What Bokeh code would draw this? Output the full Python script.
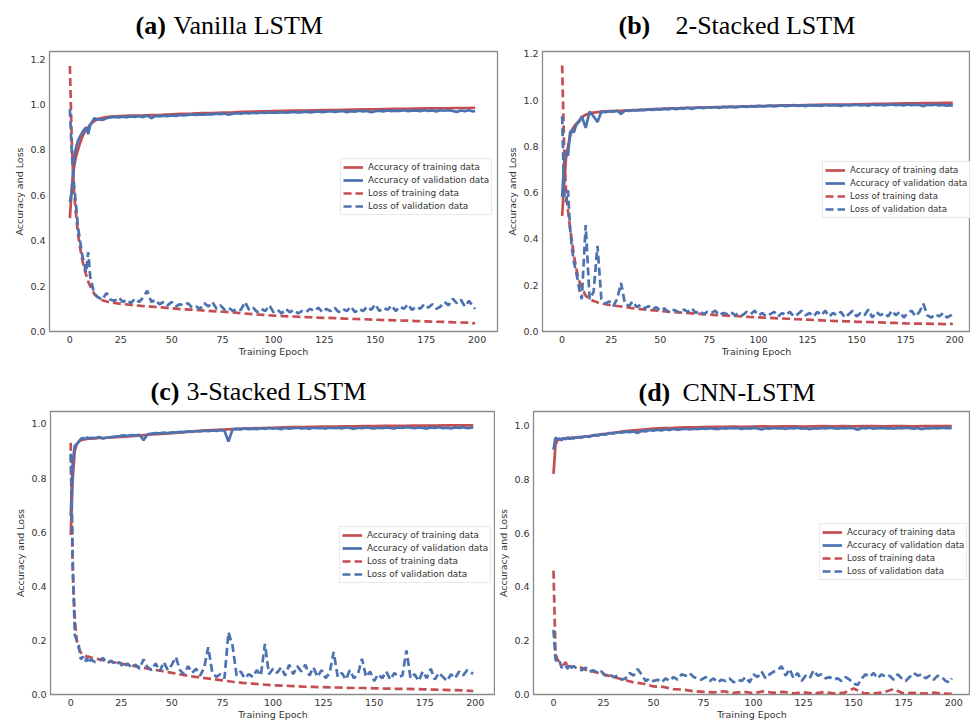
from bokeh.plotting import figure
from bokeh.models import Legend, LegendItem, FixedTicker, PrintfTickFormatter, Range1d, ColumnDataSource
from bokeh.layouts import column, row
from bokeh.core.properties import value
from bokeh.embed import file_html
from bokeh.resources import INLINE

RED = "#c44e52"
BLUE = "#4c72b0"

SERIES_NAMES = ["Accuracy of training data", "Accuracy of validation data",
                "Loss of training data", "Loss of validation data"]
X_TICKS = [0, 25, 50, 75, 100, 125, 150, 175, 200]

# epochs at which the training curves (smooth) are read
EPOCHS_T = [
    0, 1, 2, 3, 4, 5, 6, 7, 8, 9,
    10, 12, 14, 16, 18, 20, 25, 30, 35, 40,
    45, 50, 55, 60, 65, 70, 75, 80, 85, 90,
    95, 100, 105, 110, 115, 120, 125, 130, 135, 140,
    145, 150, 155, 160, 165, 170, 175, 180, 185, 190,
    195, 199]

# epochs at which the validation curves (noisy) are read
EPOCHS_V = [
    0, 1, 2, 3, 4, 5, 6, 7, 8, 9,
    10, 12, 14, 16, 18, 20, 22, 24, 26, 28,
    30, 32, 34, 36, 38, 40, 42, 44, 46, 48,
    50, 52, 54, 56, 58, 60, 62, 64, 66, 68,
    70, 72, 74, 76, 78, 80, 82, 84, 86, 88,
    90, 92, 94, 96, 98, 100, 102, 104, 106, 108,
    110, 112, 114, 116, 118, 120, 122, 124, 126, 128,
    130, 132, 134, 136, 138, 140, 142, 144, 146, 148,
    150, 152, 154, 156, 158, 160, 162, 164, 166, 168,
    170, 172, 174, 176, 178, 180, 182, 184, 186, 188,
    190, 192, 194, 196, 198, 199]

# ---------------- (a) Vanilla LSTM ----------------
A_TRAIN_ACC = [
    0.50, 0.64, 0.72, 0.77, 0.80, 0.83, 0.855, 0.875, 0.89, 0.90,
    0.912, 0.928, 0.937, 0.942, 0.945, 0.947, 0.949, 0.951, 0.952, 0.954,
    0.955, 0.957, 0.959, 0.960, 0.962, 0.963, 0.965, 0.966, 0.968, 0.969,
    0.970, 0.971, 0.972, 0.973, 0.974, 0.975, 0.976, 0.976, 0.977, 0.978,
    0.979, 0.979, 0.980, 0.981, 0.981, 0.982, 0.983, 0.983, 0.984, 0.985,
    0.985, 0.986]
A_VAL_ACC = [
    0.57, 0.62, 0.76, 0.81, 0.84, 0.86, 0.875, 0.89, 0.90, 0.87,
    0.91, 0.94, 0.935, 0.932, 0.94, 0.944, 0.946, 0.943, 0.947, 0.944,
    0.948, 0.946, 0.949, 0.945, 0.951, 0.940, 0.950, 0.948, 0.951, 0.949,
    0.952, 0.950, 0.954, 0.952, 0.955, 0.957, 0.954, 0.957, 0.956, 0.958,
    0.957, 0.960, 0.958, 0.961, 0.955, 0.960, 0.962, 0.960, 0.963, 0.961,
    0.964, 0.962, 0.965, 0.963, 0.966, 0.964, 0.965, 0.967, 0.964, 0.966,
    0.968, 0.965, 0.967, 0.969, 0.966, 0.968, 0.970, 0.967, 0.969, 0.971,
    0.968, 0.970, 0.972, 0.967, 0.971, 0.969, 0.973, 0.970, 0.972, 0.966,
    0.971, 0.973, 0.970, 0.974, 0.971, 0.973, 0.972, 0.975, 0.971, 0.973,
    0.974, 0.971, 0.975, 0.972, 0.974, 0.970, 0.975, 0.973, 0.975, 0.972,
    0.968, 0.974, 0.971, 0.975, 0.970, 0.972]
A_TRAIN_LOSS = [
    1.17, 0.82, 0.62, 0.52, 0.43, 0.37, 0.32, 0.28, 0.25, 0.22,
    0.20, 0.165, 0.148, 0.138, 0.132, 0.128, 0.122, 0.117, 0.113, 0.110,
    0.106, 0.102, 0.098, 0.096, 0.093, 0.090, 0.087, 0.084, 0.080, 0.076,
    0.073, 0.070, 0.068, 0.066, 0.064, 0.062, 0.060, 0.059, 0.057, 0.055,
    0.054, 0.052, 0.050, 0.049, 0.048, 0.046, 0.045, 0.043, 0.042, 0.040,
    0.039, 0.036]
A_VAL_LOSS = [
    0.98, 0.78, 0.65, 0.56, 0.46, 0.40, 0.34, 0.30, 0.26, 0.35,
    0.24, 0.165, 0.15, 0.14, 0.17, 0.14, 0.135, 0.15, 0.13, 0.14,
    0.125, 0.145, 0.13, 0.15, 0.18, 0.13, 0.14, 0.12, 0.13, 0.115,
    0.13, 0.11, 0.12, 0.115, 0.125, 0.105, 0.11, 0.10, 0.125, 0.11,
    0.13, 0.10, 0.115, 0.095, 0.105, 0.09, 0.10, 0.095, 0.13, 0.095,
    0.105, 0.085, 0.10, 0.09, 0.115, 0.085, 0.095, 0.08, 0.10, 0.085,
    0.095, 0.08, 0.09, 0.085, 0.10, 0.09, 0.105, 0.085, 0.10, 0.09,
    0.105, 0.085, 0.10, 0.09, 0.11, 0.085, 0.10, 0.09, 0.11, 0.095,
    0.12, 0.09, 0.105, 0.095, 0.115, 0.09, 0.11, 0.10, 0.12, 0.095,
    0.11, 0.10, 0.12, 0.105, 0.12, 0.10, 0.11, 0.13, 0.115, 0.145,
    0.125, 0.14, 0.11, 0.135, 0.11, 0.10]

# ---------------- (b) 2-Stacked LSTM ----------------
B_TRAIN_ACC = [
    0.50, 0.63, 0.75, 0.80, 0.84, 0.87, 0.885, 0.895, 0.905, 0.915,
    0.925, 0.937, 0.943, 0.946, 0.948, 0.950, 0.952, 0.954, 0.956, 0.958,
    0.960, 0.962, 0.964, 0.965, 0.967, 0.968, 0.969, 0.970, 0.971, 0.972,
    0.973, 0.974, 0.975, 0.976, 0.977, 0.977, 0.978, 0.979, 0.980, 0.980,
    0.981, 0.982, 0.983, 0.984, 0.984, 0.985, 0.986, 0.986, 0.987, 0.987,
    0.988, 0.988]
B_VAL_ACC = [
    0.58, 0.73, 0.78, 0.76, 0.86, 0.87, 0.86, 0.89, 0.90, 0.91,
    0.93, 0.88, 0.95, 0.93, 0.905, 0.95, 0.948, 0.952, 0.950, 0.954,
    0.940, 0.955, 0.953, 0.957, 0.955, 0.958, 0.956, 0.960, 0.958, 0.961,
    0.959, 0.962, 0.960, 0.964, 0.961, 0.965, 0.963, 0.967, 0.962, 0.966,
    0.968, 0.965, 0.969, 0.967, 0.970, 0.966, 0.971, 0.969, 0.972, 0.968,
    0.971, 0.973, 0.970, 0.974, 0.972, 0.975, 0.973, 0.974, 0.976, 0.973,
    0.975, 0.977, 0.974, 0.976, 0.978, 0.975, 0.977, 0.974, 0.978, 0.976,
    0.977, 0.975, 0.979, 0.976, 0.978, 0.977, 0.975, 0.979, 0.977, 0.978,
    0.980, 0.977, 0.979, 0.976, 0.981, 0.978, 0.980, 0.977, 0.979, 0.981,
    0.978, 0.980, 0.977, 0.981, 0.978, 0.980, 0.979, 0.974, 0.980, 0.978,
    0.981, 0.977, 0.979, 0.976, 0.978, 0.975]
B_TRAIN_LOSS = [
    1.15, 0.80, 0.60, 0.52, 0.45, 0.39, 0.33, 0.28, 0.24, 0.21,
    0.19, 0.155, 0.14, 0.132, 0.126, 0.121, 0.113, 0.108, 0.102, 0.097,
    0.092, 0.089, 0.085, 0.082, 0.079, 0.076, 0.073, 0.070, 0.068, 0.066,
    0.063, 0.061, 0.059, 0.057, 0.055, 0.053, 0.051, 0.049, 0.047, 0.045,
    0.044, 0.042, 0.041, 0.040, 0.038, 0.037, 0.035, 0.034, 0.034, 0.033,
    0.032, 0.033]
B_VAL_LOSS = [
    0.93, 0.60, 0.56, 0.61, 0.45, 0.36, 0.30, 0.26, 0.22, 0.17,
    0.14, 0.46, 0.14, 0.17, 0.37, 0.14, 0.12, 0.13, 0.11, 0.14,
    0.21, 0.12, 0.11, 0.13, 0.105, 0.115, 0.10, 0.11, 0.095, 0.105,
    0.09, 0.10, 0.085, 0.095, 0.09, 0.08, 0.095, 0.085, 0.10, 0.08,
    0.09, 0.075, 0.085, 0.08, 0.09, 0.07, 0.08, 0.075, 0.085, 0.07,
    0.08, 0.07, 0.085, 0.075, 0.09, 0.07, 0.08, 0.065, 0.075, 0.085,
    0.065, 0.08, 0.07, 0.085, 0.065, 0.075, 0.09, 0.07, 0.08, 0.065,
    0.085, 0.07, 0.09, 0.065, 0.08, 0.07, 0.085, 0.06, 0.075, 0.09,
    0.065, 0.08, 0.07, 0.095, 0.06, 0.085, 0.07, 0.08, 0.065, 0.09,
    0.07, 0.085, 0.06, 0.08, 0.09, 0.065, 0.085, 0.12, 0.07, 0.06,
    0.075, 0.065, 0.08, 0.06, 0.07, 0.085]

# ---------------- (c) 3-Stacked LSTM ----------------
C_TRAIN_ACC = [
    0.59, 0.80, 0.90, 0.925, 0.935, 0.940, 0.942, 0.944, 0.945, 0.946,
    0.946, 0.947, 0.948, 0.948, 0.949, 0.950, 0.952, 0.955, 0.958, 0.961,
    0.963, 0.966, 0.969, 0.972, 0.975, 0.977, 0.979, 0.981, 0.983, 0.984,
    0.985, 0.986, 0.987, 0.988, 0.988, 0.989, 0.990, 0.990, 0.991, 0.991,
    0.992, 0.992, 0.993, 0.993, 0.993, 0.994, 0.994, 0.994, 0.995, 0.995,
    0.995, 0.995]
C_VAL_ACC = [
    0.66, 0.86, 0.92, 0.925, 0.935, 0.945, 0.948, 0.944, 0.950, 0.947,
    0.949, 0.948, 0.952, 0.946, 0.950, 0.951, 0.953, 0.955, 0.958, 0.956,
    0.959, 0.958, 0.960, 0.940, 0.962, 0.964, 0.966, 0.965, 0.968, 0.966,
    0.969, 0.968, 0.971, 0.970, 0.973, 0.971, 0.974, 0.972, 0.975, 0.973,
    0.976, 0.974, 0.977, 0.975, 0.935, 0.980, 0.982, 0.980, 0.983, 0.981,
    0.983, 0.981, 0.984, 0.982, 0.985, 0.983, 0.984, 0.981, 0.985, 0.983,
    0.984, 0.986, 0.983, 0.985, 0.982, 0.986, 0.984, 0.985, 0.983, 0.986,
    0.984, 0.986, 0.983, 0.987, 0.985, 0.982, 0.986, 0.984, 0.987, 0.985,
    0.983, 0.986, 0.984, 0.987, 0.985, 0.983, 0.987, 0.985, 0.988, 0.986,
    0.984, 0.987, 0.985, 0.983, 0.987, 0.985, 0.988, 0.984, 0.986, 0.983,
    0.987, 0.985, 0.988, 0.984, 0.986, 0.987]
C_TRAIN_LOSS = [
    0.93, 0.45, 0.28, 0.20, 0.17, 0.155, 0.148, 0.144, 0.141, 0.139,
    0.137, 0.133, 0.130, 0.127, 0.124, 0.121, 0.114, 0.107, 0.100, 0.093,
    0.087, 0.080, 0.073, 0.067, 0.062, 0.057, 0.052, 0.047, 0.043, 0.040,
    0.037, 0.034, 0.033, 0.031, 0.029, 0.028, 0.027, 0.026, 0.025, 0.024,
    0.024, 0.023, 0.022, 0.021, 0.021, 0.020, 0.019, 0.018, 0.017, 0.016,
    0.015, 0.013]
C_VAL_LOSS = [
    0.89, 0.50, 0.22, 0.20, 0.18, 0.13, 0.14, 0.12, 0.135, 0.115,
    0.13, 0.12, 0.125, 0.135, 0.115, 0.125, 0.11, 0.12, 0.10, 0.115,
    0.10, 0.11, 0.095, 0.13, 0.10, 0.09, 0.115, 0.085, 0.12, 0.09,
    0.11, 0.138, 0.09, 0.075, 0.105, 0.08, 0.095, 0.07, 0.10, 0.175,
    0.08, 0.065, 0.075, 0.06, 0.23, 0.18, 0.07, 0.085, 0.06, 0.075,
    0.065, 0.09, 0.07, 0.187, 0.075, 0.095, 0.08, 0.10, 0.07, 0.11,
    0.075, 0.105, 0.085, 0.11, 0.07, 0.10, 0.065, 0.09, 0.06, 0.08,
    0.157, 0.065, 0.08, 0.055, 0.09, 0.06, 0.075, 0.132, 0.065, 0.085,
    0.05, 0.075, 0.06, 0.085, 0.055, 0.08, 0.065, 0.07, 0.163, 0.06,
    0.075, 0.05, 0.085, 0.06, 0.095, 0.055, 0.08, 0.065, 0.05, 0.075,
    0.06, 0.085, 0.07, 0.09, 0.08, 0.078]

# ---------------- (d) CNN-LSTM ----------------
D_TRAIN_ACC = [
    0.82, 0.93, 0.945, 0.948, 0.950, 0.952, 0.951, 0.953, 0.954, 0.953,
    0.955, 0.956, 0.958, 0.959, 0.961, 0.963, 0.968, 0.973, 0.978, 0.982,
    0.985, 0.988, 0.990, 0.991, 0.993, 0.993, 0.994, 0.995, 0.995, 0.996,
    0.995, 0.996, 0.997, 0.996, 0.997, 0.997, 0.996, 0.997, 0.998, 0.997,
    0.998, 0.997, 0.998, 0.998, 0.997, 0.998, 0.998, 0.997, 0.998, 0.998,
    0.998, 0.998]
D_VAL_ACC = [
    0.91, 0.955, 0.948, 0.952, 0.945, 0.953, 0.949, 0.955, 0.950, 0.954,
    0.952, 0.957, 0.955, 0.960, 0.958, 0.964, 0.962, 0.968, 0.966, 0.972,
    0.970, 0.975, 0.973, 0.977, 0.975, 0.978, 0.972, 0.980, 0.978, 0.983,
    0.981, 0.984, 0.982, 0.986, 0.983, 0.987, 0.984, 0.986, 0.988, 0.985,
    0.988, 0.986, 0.989, 0.987, 0.990, 0.988, 0.986, 0.990, 0.988, 0.991,
    0.989, 0.991, 0.987, 0.990, 0.988, 0.991, 0.989, 0.985, 0.990, 0.988,
    0.991, 0.989, 0.990, 0.987, 0.991, 0.989, 0.992, 0.988, 0.990, 0.986,
    0.990, 0.988, 0.991, 0.989, 0.992, 0.990, 0.988, 0.991, 0.989, 0.991,
    0.990, 0.984, 0.991, 0.989, 0.992, 0.988, 0.990, 0.991, 0.989, 0.990,
    0.988, 0.991, 0.989, 0.992, 0.990, 0.988, 0.991, 0.986, 0.990, 0.989,
    0.991, 0.989, 0.992, 0.990, 0.991, 0.990]
D_TRAIN_LOSS = [
    0.46, 0.15, 0.13, 0.12, 0.115, 0.11, 0.12, 0.105, 0.11, 0.10,
    0.105, 0.098, 0.10, 0.092, 0.088, 0.085, 0.075, 0.065, 0.055, 0.045,
    0.040, 0.030, 0.028, 0.020, 0.018, 0.012, 0.010, 0.008, 0.012, 0.006,
    0.010, 0.005, 0.012, 0.006, 0.010, 0.004, 0.008, 0.003, 0.009, 0.004,
    0.006, 0.022, 0.005, 0.004, 0.008, 0.020, 0.004, 0.006, 0.003, 0.007,
    0.003, 0.002]
D_VAL_LOSS = [
    0.24, 0.13, 0.12, 0.125, 0.10, 0.105, 0.11, 0.095, 0.115, 0.10,
    0.105, 0.095, 0.09, 0.10, 0.085, 0.09, 0.08, 0.085, 0.07, 0.075,
    0.065, 0.07, 0.055, 0.06, 0.08, 0.07, 0.095, 0.075, 0.05, 0.06,
    0.05, 0.055, 0.045, 0.06, 0.05, 0.065, 0.055, 0.075, 0.07, 0.08,
    0.065, 0.06, 0.055, 0.065, 0.05, 0.06, 0.045, 0.055, 0.05, 0.06,
    0.045, 0.055, 0.05, 0.065, 0.045, 0.075, 0.065, 0.085, 0.06, 0.075,
    0.085, 0.09, 0.105, 0.07, 0.095, 0.06, 0.08, 0.05, 0.07, 0.06,
    0.09, 0.07, 0.075, 0.06, 0.065, 0.055, 0.06, 0.05, 0.065, 0.055,
    0.04, 0.035, 0.06, 0.075, 0.065, 0.08, 0.06, 0.075, 0.065, 0.07,
    0.055, 0.075, 0.06, 0.05, 0.065, 0.08, 0.07, 0.075, 0.06, 0.07,
    0.055, 0.07, 0.065, 0.05, 0.045, 0.06]

LETTERS = ["(a)", "(b)", "(c)", "(d)"]
NAMES = ["Vanilla LSTM", "2-Stacked LSTM", "3-Stacked LSTM", "CNN-LSTM"]

PANELS = [
    dict(series=(A_TRAIN_ACC, A_VAL_ACC, A_TRAIN_LOSS, A_VAL_LOSS),
         width=500, height=327, borders=(49, 3, 7, 30),
         x_end=210, y_end=1.234, y_ticks=[0, 0.2, 0.4, 0.6, 0.8, 1.0, 1.2],
         legend_loc=(291, 116), legend_font="8.9px"),
    dict(series=(B_TRAIN_ACC, B_VAL_ACC, B_TRAIN_LOSS, B_VAL_LOSS),
         width=470, height=327, borders=(42, 0, 11, 36),
         x_end=208, y_end=1.21, y_ticks=[0, 0.2, 0.4, 0.6, 0.8, 1.0, 1.2],
         legend_loc=(280, 113), legend_font="8.6px"),
    dict(series=(C_TRAIN_ACC, C_VAL_ACC, C_TRAIN_LOSS, C_VAL_LOSS),
         width=495, height=316, borders=(50, 0, 3, 30),
         x_end=210, y_end=1.046, y_ticks=[0, 0.2, 0.4, 0.6, 0.8, 1.0],
         legend_loc=(289, 111), legend_font="8.9px"),
    dict(series=(D_TRAIN_ACC, D_VAL_ACC, D_TRAIN_LOSS, D_VAL_LOSS),
         width=475, height=316, borders=(36, 0, 2, 30),
         x_end=208.4, y_end=1.052, y_ticks=[0, 0.2, 0.4, 0.6, 0.8, 1.0],
         legend_loc=(286, 114), legend_font="8.6px"),
]

TEXT_COLOR = "#333333"
PAGE_W = 970
LINE_W = 2.7


def make_panel(cfg):
    bl, br, bt, bb = cfg["borders"]
    p = figure(width=cfg["width"], height=cfg["height"], title=None,
               x_range=Range1d(-10, cfg["x_end"]), y_range=Range1d(0, cfg["y_end"]),
               toolbar_location=None, output_backend="svg",
               min_border_left=bl, min_border_right=br,
               min_border_top=bt, min_border_bottom=bb)
    p.background_fill_color = "white"
    p.border_fill_color = "white"
    p.outline_line_color = "#8a8a8a"
    p.outline_line_width = 1.3
    p.xgrid.visible = False
    p.ygrid.visible = False

    for ax in (p.xaxis[0], p.yaxis[0]):
        ax.axis_line_color = None
        ax.major_tick_line_color = None
        ax.minor_tick_line_color = None
        ax.major_tick_out = 0
        ax.major_tick_in = 0
        ax.minor_tick_out = 0
        ax.major_label_text_font = "DejaVu Sans"
        ax.major_label_text_font_size = "9.5px"
        ax.major_label_text_color = TEXT_COLOR
        ax.major_label_text_line_height = 1.0
        ax.axis_label_text_font = "DejaVu Sans"
        ax.axis_label_text_font_size = "9.5px"
        ax.axis_label_text_font_style = "normal"
        ax.axis_label_text_color = TEXT_COLOR
        ax.axis_label_text_line_height = 1.0
    p.xaxis.major_label_standoff = 4
    p.xaxis.axis_label_standoff = 0
    p.yaxis.major_label_standoff = 4
    p.yaxis.axis_label_standoff = 2
    p.xaxis.ticker = FixedTicker(ticks=X_TICKS)
    p.yaxis.ticker = FixedTicker(ticks=cfg["y_ticks"])
    p.yaxis.formatter = PrintfTickFormatter(format="%.1f")
    p.xaxis.axis_label = "Training Epoch"
    p.yaxis.axis_label = "Accuracy and Loss"

    tr_acc, va_acc, tr_loss, va_loss = cfg["series"]
    r1 = p.line(EPOCHS_T, tr_acc, line_color=RED, line_width=LINE_W)
    r2 = p.line(EPOCHS_V, va_acc, line_color=BLUE, line_width=LINE_W)
    r3 = p.line(EPOCHS_T, tr_loss, line_color=RED, line_width=LINE_W, line_dash="8 4")
    r4 = p.line(EPOCHS_V, va_loss, line_color=BLUE, line_width=LINE_W, line_dash="8 4")

    legend = Legend(items=[LegendItem(label=n, renderers=[r])
                           for n, r in zip(SERIES_NAMES, (r1, r2, r3, r4))],
                    location=cfg["legend_loc"], orientation="vertical")
    legend.label_text_font = "DejaVu Sans"
    legend.label_text_font_size = cfg["legend_font"]
    legend.label_text_color = TEXT_COLOR
    legend.label_height = 12
    legend.glyph_height = 12
    legend.glyph_width = 20
    legend.label_standoff = 5
    legend.spacing = 1
    legend.padding = 2
    legend.margin = 0
    legend.border_line_color = "#d4d4d4"
    legend.border_line_width = 1
    legend.background_fill_color = "white"
    legend.background_fill_alpha = 1.0
    p.add_layout(legend, "center")
    return p


def make_title_strip(height, letters, names, letter_x, name_x, mid_from_bottom):
    """A strip without axes holding the panel headings; x and y are in pixels."""
    t = figure(width=PAGE_W, height=height, title=None, toolbar_location=None,
               output_backend="svg", x_axis_type=None, y_axis_type=None,
               x_range=Range1d(0, PAGE_W), y_range=Range1d(0, height),
               min_border=0)
    t.outline_line_color = None
    t.grid.visible = False
    t.background_fill_color = "white"
    t.border_fill_color = "white"
    src_l = ColumnDataSource(dict(x=letter_x, y=mid_from_bottom, text=letters))
    src_n = ColumnDataSource(dict(x=name_x, y=mid_from_bottom, text=names))
    t.text(x="x", y="y", text="text", source=src_l, text_font=value("Liberation Serif"),
           text_font_size="26px", text_font_style="bold", text_color="black",
           text_align="left", text_baseline="middle")
    t.text(x="x", y="y", text="text", source=src_n, text_font=value("Liberation Serif"),
           text_font_size="26px", text_color="black",
           text_align="left", text_baseline="middle")
    return t


figs = [make_panel(c) for c in PANELS]
top_titles = make_title_strip(40, LETTERS[:2], NAMES[:2], [135, 618], [173, 675], [15.5, 15.5])
bottom_titles = make_title_strip(41, LETTERS[2:], NAMES[2:], [150, 638], [186, 682], [17.5, 16.5])

layout = column(top_titles,
                row(figs[0], figs[1], spacing=0),
                bottom_titles,
                row(figs[2], figs[3], spacing=0),
                spacing=0)

open("out.html", "w").write(file_html(layout, INLINE))
